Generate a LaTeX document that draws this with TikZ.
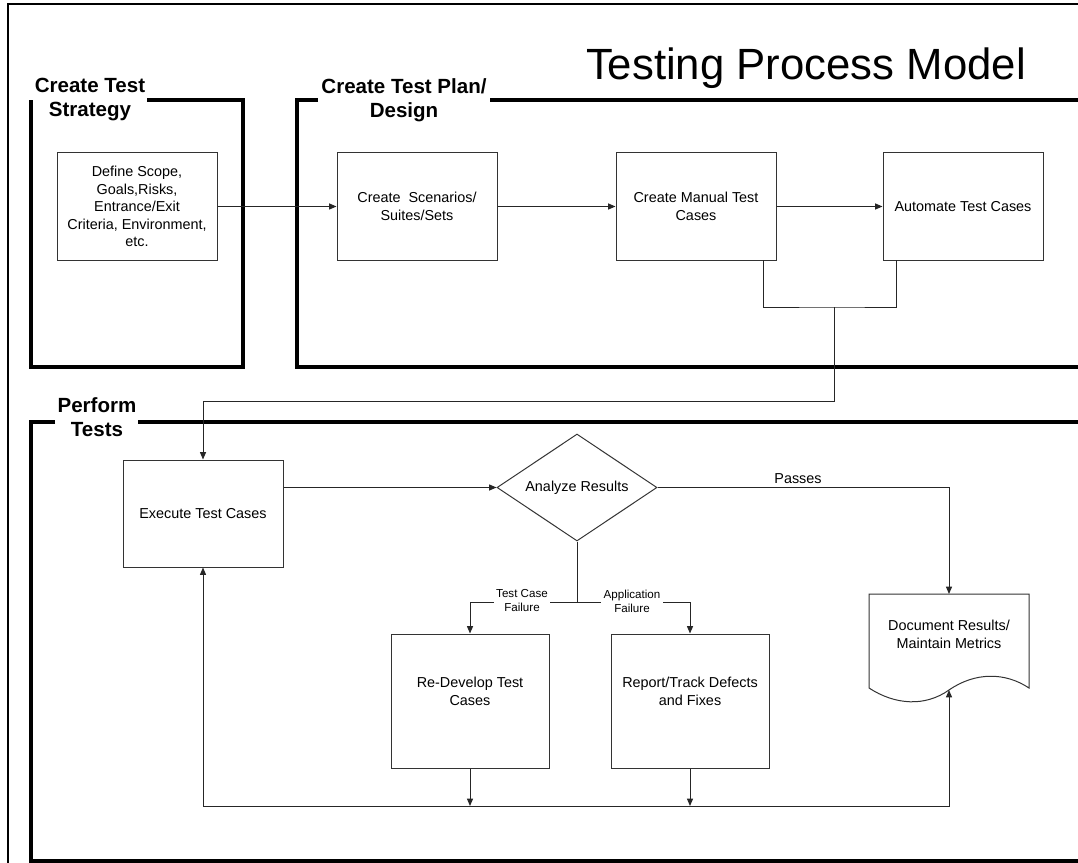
\documentclass[tikz,border=0pt]{standalone}
\usepackage{fontspec}
\setmainfont{Liberation Sans}
\usetikzlibrary{arrows.meta,shapes.geometric,calc}
\newcommand{\boxfont}{\fontsize{10.8pt}{13.1pt}\selectfont}
\newcommand{\smallfont}{\fontsize{8.7pt}{10.5pt}\selectfont}
\newcommand{\secfont}{\fontsize{15.4pt}{18pt}\selectfont\bfseries}
\newcommand{\titlefont}{\fontsize{32.8pt}{38pt}\selectfont}
\tikzset{
  box/.style={draw=black!80, line width=0.75pt, minimum width=120pt, minimum height=80.25pt, align=center, inner sep=2pt, font=\boxfont},
  secframe/.style={line width=3pt, line join=miter},
  outer/.style={line width=1.8pt},
  conn/.style={line width=0.75pt, draw=black!85},
  arr/.style={conn, -{Triangle[length=5.5pt,width=4.5pt]}},
  seclabel/.style={font=\secfont, align=center, inner sep=0pt},
  flowlabel/.style={font=\smallfont, align=center, fill=white, inner sep=2pt},
}
\begin{document}
\begin{tikzpicture}[x=0.75pt,y=-0.75pt]
\useasboundingbox (0,0) rectangle (1078,863);
\clip (0,0) rectangle (1078,863);
% outer frame
\draw[outer] (8,900) -- (8,4) -- (1100,4);
% title
\node[font=\titlefont, inner sep=0pt] (title) at (806,68) {Testing Process Model};
% section frames
\draw[secframe] (147,100) -- (243,100) -- (243,367) -- (31,367) -- (31,100);
\draw[secframe] (318,100) -- (297,100) -- (297,367) -- (1100,367);
\draw[secframe] (490,100) -- (1100,100);
\draw[secframe] (55,422) -- (31,422) -- (31,861) -- (1100,861);
\draw[secframe] (138,422) -- (1100,422);
\node[seclabel] (lstrat) at (90,100) {Create Test\\Strategy};
\node[seclabel] (lplan) at (404,100.5) {Create Test Plan/\\Design};
\node[seclabel] (lperf) at (97,417) {Perform\\Tests};
% top boxes
\node[box] (define) at (137,206.5) {Define Scope,\\Goals,Risks,\\Entrance/Exit\\Criteria, Environment,\\etc.};
\node[box] (scen) at (417,206.5) {Create~ Scenarios/\\Suites/Sets};
\node[box] (manual) at (696,206.5) {Create Manual Test\\Cases};
\node[box] (auto) at (963,206.5) {Automate Test Cases};
% perform boxes
\node[box] (exec) at (203,513.5) {Execute Test Cases};
\node[diamond, aspect=1.5, draw=black!80, line width=0.75pt, minimum width=120pt, minimum height=80.25pt, inner sep=0pt, font=\boxfont] (analyze) at (577,487.5) {Analyze Results};
\node[box, minimum width=118.5pt, minimum height=100.5pt] (redev) at (470,701) {};
\node[font=\boxfont, align=center] (redevT) at (470,691.5) {Re-Develop Test\\Cases};
\node[box, minimum width=118.5pt, minimum height=100.5pt] (report) at (690,701) {};
\node[font=\boxfont, align=center] (reportT) at (690,691.5) {Report/Track Defects\\and Fixes};
% document shape
\draw[draw=black!80, line width=0.75pt] (869,594) -- (1029,594) -- (1029,688)
  .. controls (1005,672) and (975,672) .. (949,690)
  .. controls (925,707) and (895,705) .. (869,688) -- cycle;
\node[font=\boxfont, align=center] (doc) at (949,634.5) {Document Results/\\Maintain Metrics};
\coordinate (docTop) at (949,594);
\coordinate (docBot) at (949,690);
% coordinates for connectors
\coordinate (mA) at (763,260);
\coordinate (aA) at (896,260);
\coordinate (jn) at (834,307);
\coordinate (jd) at (834,401);
\coordinate (split) at (577,602);
\coordinate (bot) at (577,806);
% top connectors
\draw[arr] (define.east) -- (scen.west);
\draw[arr] (scen.east) -- (manual.west);
\draw[arr] (manual.east) -- (auto.west);
\draw[conn] (mA) |- (jn) -| (aA);
\draw[arr] (jn) -- (jd) -| (exec.north);
% perform connectors
\draw[arr] (exec.east |- analyze.west) -- (analyze.west);
\draw[arr] (analyze.east) -| (docTop);
\node[font=\boxfont, inner sep=0pt] (passes) at (798,479) {Passes};
\draw[conn] (analyze.south) -- (split);
\draw[arr] (split) -| (redev.north);
\draw[arr] (split) -| (report.north);
\node[flowlabel] (tcf) at (522,601) {Test Case\\Failure};
\node[flowlabel] (apf) at (632,601) {Application\\Failure};
\draw[arr] (redev.south) -- (redev.south |- bot);
\draw[arr] (report.south) -- (report.south |- bot);
\draw[arr] (bot) -| (exec.south);
\draw[arr] (bot) -| (docBot);
\end{tikzpicture}
\end{document}
